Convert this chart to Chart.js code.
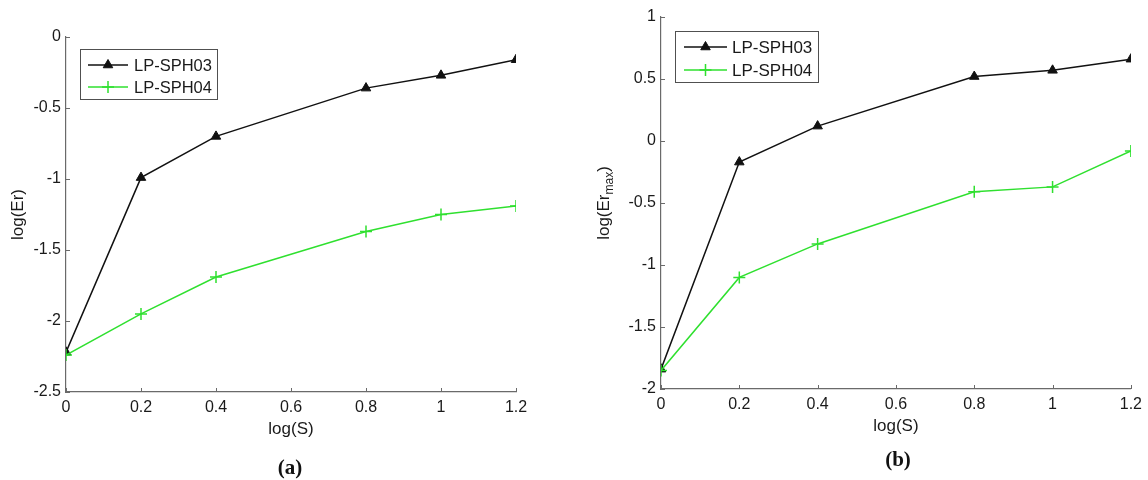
<!DOCTYPE html>
<html>
<head>
<meta charset="utf-8">
<title>log(S) error plots</title>
<script src="https://cdn.jsdelivr.net/npm/chart.js@4.4.1/dist/chart.umd.min.js"></script>
<style>
  html, body { margin: 0; padding: 0; background: #fff; }
  #wrap { position: relative; width: 1148px; height: 480px; overflow: hidden; }
  .panel { position: absolute; top: 0; }
  .cap {
    position: absolute;
    font: bold 21px "Liberation Serif", "Times New Roman", serif;
    color: #111;
    transform: translate(-50%, -50%);
  }
</style>
</head>
<body>
<div id="wrap">
  <canvas id="chartA" class="panel" width="574" height="480" style="left:0"></canvas>
  <canvas id="chartB" class="panel" width="574" height="480" style="left:574px"></canvas>
  <div class="cap" style="left:290px; top:467px">(a)</div>
  <div class="cap" style="left:898px; top:459px">(b)</div>
</div>
<script>
// data
const logS = [0, 0.2, 0.4, 0.8, 1, 1.2];
const seriesNames = ["LP-SPH03", "LP-SPH04"];

// (a) log(Er)
const erSph03 = [-2.22, -0.99, -0.70, -0.36, -0.27, -0.16];
const erSph04 = [-2.24, -1.95, -1.69, -1.37, -1.25, -1.19];

// (b) log(Er_max)
const erMaxSph03 = [-1.84, -0.17, 0.12, 0.52, 0.57, 0.66];
const erMaxSph04 = [-1.85, -1.10, -0.83, -0.41, -0.37, -0.08];

const BLACK = "#111111";
const GREEN = "#2fe02f";
const AXIS = "#6a6a6a";
const TXT = "#1a1a1a";
const FAMILY = '"Liberation Sans", Arial, sans-serif';

// matlab style labels: 1 not 1.0
const fmt = v => String(Math.round(v * 10) / 10);

// small tick marks pointing into the plot
const innerTicks = {
  id: "innerTicks",
  afterDraw(chart) {
    const ctx = chart.ctx;
    const x = chart.scales.x, y = chart.scales.y;
    ctx.save();
    ctx.strokeStyle = AXIS;
    ctx.lineWidth = 1;
    x.ticks.forEach(t => {
      const px = Math.round(x.getPixelForValue(t.value)) + 0.5;
      ctx.beginPath();
      ctx.moveTo(px, x.top);
      ctx.lineTo(px, x.top - 4);
      ctx.stroke();
    });
    y.ticks.forEach(t => {
      const py = Math.round(y.getPixelForValue(t.value)) + 0.5;
      ctx.beginPath();
      ctx.moveTo(y.right, py);
      ctx.lineTo(y.right + 4, py);
      ctx.stroke();
    });
    ctx.restore();
  }
};

// boxed legend in the upper left corner of the plot
const boxLegend = {
  id: "boxLegend",
  afterDraw(chart, args, o) {
    if (!o || !o.w) return;
    const ctx = chart.ctx;
    const x0 = chart.chartArea.left + o.dx;
    const y0 = chart.chartArea.top + o.dy;
    ctx.save();
    ctx.fillStyle = "#fff";
    ctx.fillRect(x0, y0, o.w, o.h);
    ctx.strokeStyle = "#505050";
    ctx.lineWidth = 1;
    ctx.strokeRect(x0 + 0.5, y0 + 0.5, o.w, o.h);
    chart.data.datasets.forEach((ds, i) => {
      const cy = y0 + o.row0 + i * o.rowGap;
      ctx.strokeStyle = ds.borderColor;
      ctx.lineWidth = ds.borderWidth;
      ctx.beginPath();
      ctx.moveTo(x0 + o.l0, cy);
      ctx.lineTo(x0 + o.l1, cy);
      ctx.stroke();
      ctx.fillStyle = ds.pointBackgroundColor;
      ctx.strokeStyle = ds.pointBorderColor;
      ctx.lineWidth = ds.pointBorderWidth;
      Chart.helpers.drawPoint(ctx, {
        pointStyle: ds.pointStyle,
        radius: ds.pointRadius,
        borderWidth: ds.pointBorderWidth,
        rotation: 0
      }, x0 + (o.l0 + o.l1) / 2, cy);
      ctx.fillStyle = TXT;
      ctx.font = o.font + "px " + FAMILY;
      ctx.textBaseline = "middle";
      ctx.textAlign = "left";
      ctx.fillText(ds.label, x0 + o.tx, cy + 1);
    });
    ctx.restore();
  }
};

// y title with a subscript for panel (b)
const subTitle = {
  id: "subTitle",
  afterDraw(chart, args, o) {
    if (!o || !o.main) return;
    const ctx = chart.ctx;
    const ca = chart.chartArea;
    ctx.save();
    ctx.translate(o.x, (ca.top + ca.bottom) / 2);
    ctx.rotate(-Math.PI / 2);
    ctx.fillStyle = TXT;
    ctx.textBaseline = "middle";
    ctx.textAlign = "left";
    const big = "17px " + FAMILY;
    const small = "12px " + FAMILY;
    ctx.font = big;
    const wMain = ctx.measureText(o.main).width;
    const wClose = ctx.measureText(")").width;
    ctx.font = small;
    const wSub = ctx.measureText(o.sub).width;
    const sx = -(wMain + wSub + wClose) / 2;
    ctx.font = big;
    ctx.fillText(o.main, sx, 0);
    ctx.font = small;
    ctx.fillText(o.sub, sx + wMain, 6);
    ctx.font = big;
    ctx.fillText(")", sx + wMain + wSub, 0);
    ctx.restore();
  }
};

function makeDatasets(a, b) {
  return [
    {
      label: seriesNames[0],
      data: logS.map((s, i) => ({ x: s, y: a[i] })),
      borderColor: BLACK,
      borderWidth: 1.5,
      pointStyle: "triangle",
      pointRadius: 5.5,
      pointBackgroundColor: BLACK,
      pointBorderColor: BLACK,
      pointBorderWidth: 1,
      order: 1
    },
    {
      label: seriesNames[1],
      data: logS.map((s, i) => ({ x: s, y: b[i] })),
      borderColor: GREEN,
      borderWidth: 1.5,
      pointStyle: "cross",
      pointRadius: 6,
      pointBackgroundColor: GREEN,
      pointBorderColor: GREEN,
      pointBorderWidth: 1.5,
      order: 0
    }
  ];
}

function makeChart(id, cfg) {
  const tickFont = { family: FAMILY, size: 16 };
  const titleFont = { family: FAMILY, size: 17 };
  return new Chart(document.getElementById(id), {
    type: "line",
    data: { datasets: makeDatasets(cfg.a, cfg.b) },
    options: {
      responsive: false,
      animation: false,
      layout: { padding: cfg.padding },
      plugins: {
        legend: { display: false },
        tooltip: { enabled: false },
        boxLegend: cfg.legend,
        subTitle: cfg.subTitle || {}
      },
      scales: {
        x: {
          type: "linear",
          min: 0,
          max: 1.2,
          grid: { display: false, drawTicks: false },
          border: { display: true, color: AXIS, width: 1.2 },
          ticks: { stepSize: 0.2, color: TXT, font: tickFont, padding: 6, maxRotation: 0, callback: fmt },
          title: { display: true, text: "log(S)", color: TXT, font: titleFont, padding: 0 },
          afterFit: s => { s.height = 48; }
        },
        y: {
          min: cfg.yMin,
          max: cfg.yMax,
          grid: { display: false, drawTicks: false },
          border: { display: true, color: AXIS, width: 1.2 },
          ticks: { stepSize: 0.5, color: TXT, font: tickFont, padding: 5, callback: fmt },
          title: {
            display: !!cfg.yTitle,
            text: cfg.yTitle || "",
            color: TXT,
            font: titleFont,
            padding: { top: 8, bottom: 0 }
          },
          afterFit: s => { s.width = cfg.yWidth; }
        }
      }
    },
    plugins: [innerTicks, boxLegend, subTitle]
  });
}

makeChart("chartA", {
  a: erSph03,
  b: erSph04,
  yMin: -2.5,
  yMax: 0,
  yTitle: "log(Er)",
  yWidth: 66,
  padding: { left: 0, top: 37, right: 58, bottom: 40 },
  legend: { dx: 14, dy: 12, w: 137, h: 50, row0: 16, rowGap: 22, l0: 8, l1: 48, tx: 54, font: 16.5 }
});

makeChart("chartB", {
  a: erMaxSph03,
  b: erMaxSph04,
  yMin: -2,
  yMax: 1,
  yWidth: 87,
  padding: { left: 0, top: 17, right: 16, bottom: 43 },
  legend: { dx: 14, dy: 14, w: 143, h: 51, row0: 16, rowGap: 23, l0: 9, l1: 52, tx: 57, font: 17 },
  subTitle: { x: 30, main: "log(Er", sub: "max" }
});
</script>
</body>
</html>
